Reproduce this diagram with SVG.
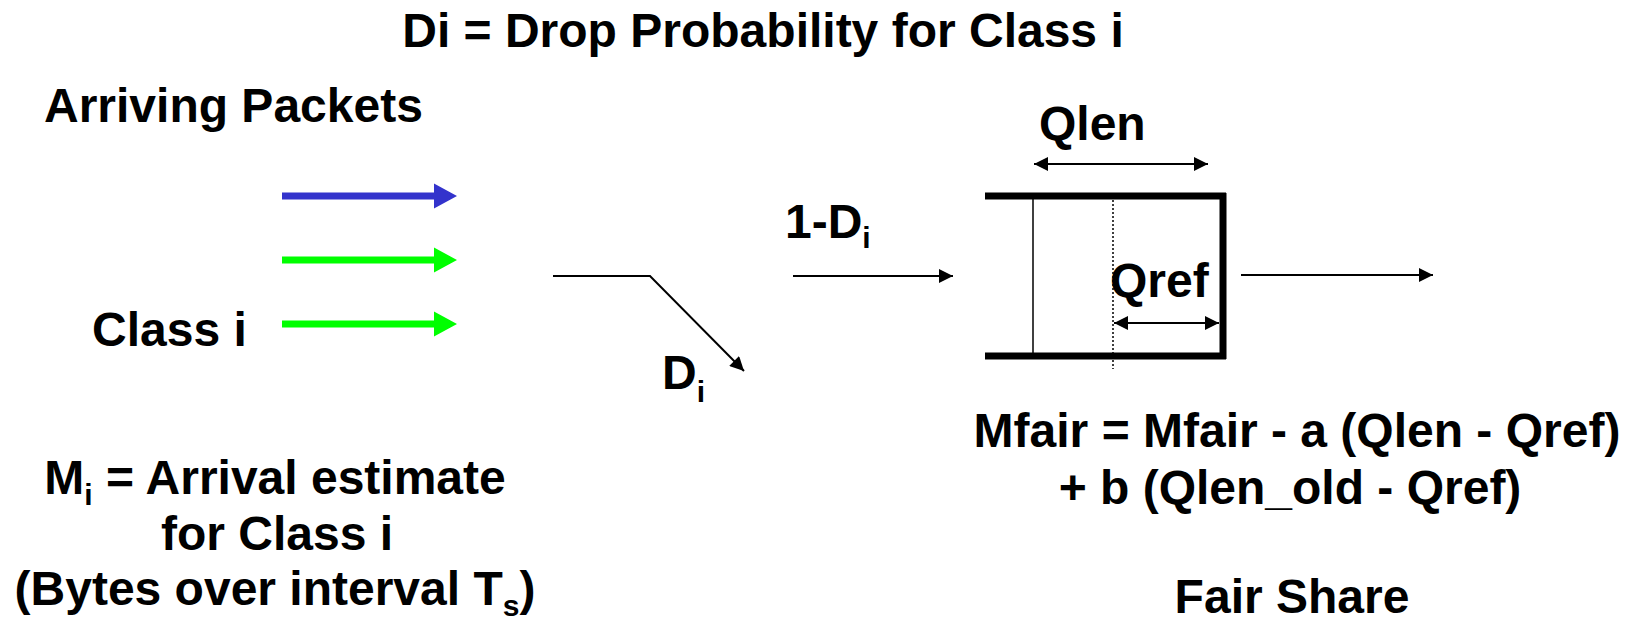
<svg xmlns="http://www.w3.org/2000/svg" width="1637" height="621" viewBox="0 0 1637 621">
<style>
.t{font-family:"Liberation Sans",Arial,sans-serif;font-weight:bold;font-size:48px;fill:#000}
.sub{font-size:30px}
.ln{stroke:#000;stroke-width:2;fill:none}
.thick{stroke:#000;stroke-width:7;fill:none}
</style>
<defs>
<marker id="ah" viewBox="0 0 10 10" refX="10" refY="5" markerWidth="8" markerHeight="7" markerUnits="strokeWidth" orient="auto-start-reverse">
<path d="M0,0 L10,5 L0,10 z" fill="#000"/>
</marker>
</defs>
<rect width="1637" height="621" fill="#fff"/>

<g id="title"><text class="t" x="763" y="47" text-anchor="middle">Di = Drop Probability for Class i</text></g>
<g id="arriving"><text class="t" x="44" y="122">Arriving Packets</text></g>
<g id="classi"><text class="t" x="92" y="346">Class i</text></g>

<g id="packet-arrows">
<path d="M282,192.5 H434 V183.5 L457,196 L434,208.5 V199.5 H282 z" fill="#3333CC"/>
<path d="M282,256.5 H434 V247.5 L457,260 L434,272.5 V263.5 H282 z" fill="#00FF00"/>
<path d="M282,320.5 H434 V311.5 L457,324 L434,336.5 V327.5 H282 z" fill="#00FF00"/>
</g>

<g id="connectors">
<polyline class="ln" points="553,276 650,276 744,371" marker-end="url(#ah)"/>
<line class="ln" x1="793" y1="276" x2="953" y2="276" marker-end="url(#ah)"/>
<line class="ln" x1="1241" y1="275" x2="1433" y2="275" marker-end="url(#ah)"/>
</g>

<g id="labels">
<text class="t" x="785" y="238">1-D<tspan class="sub" dy="10">i</tspan></text>
<text class="t" x="662" y="389">D<tspan class="sub" dy="13">i</tspan></text>
</g>

<g id="queue">
<line class="thick" x1="985" y1="196" x2="1226" y2="196"/>
<line class="thick" x1="985" y1="356" x2="1226" y2="356"/>
<line class="thick" x1="1223" y1="193" x2="1223" y2="359"/>
<line stroke="#000" stroke-width="1.5" x1="1033" y1="196" x2="1033" y2="356"/>
<line stroke="#000" stroke-width="1.5" stroke-dasharray="2,2" x1="1113" y1="196" x2="1113" y2="369"/>
<line class="ln" x1="1034" y1="164" x2="1208" y2="164" marker-start="url(#ah)" marker-end="url(#ah)"/>
<line class="ln" x1="1114" y1="323" x2="1219" y2="323" marker-start="url(#ah)" marker-end="url(#ah)"/>
<text class="t" x="1039" y="140">Qlen</text>
<text class="t" x="1110" y="297">Qref</text>
</g>

<g id="arrival-estimate">
<text class="t" x="275" y="494" text-anchor="middle">M<tspan class="sub" dy="11">i</tspan><tspan dy="-11"> = Arrival estimate</tspan></text>
<text class="t" x="277" y="550" text-anchor="middle">for Class i</text>
<text class="t" x="275" y="605" text-anchor="middle">(Bytes over interval T<tspan class="sub" dy="11">s</tspan><tspan dy="-11">)</tspan></text>
</g>

<g id="fair-share">
<text class="t" x="1297" y="447" text-anchor="middle">Mfair = Mfair - a (Qlen - Qref)</text>
<text class="t" x="1290" y="504" text-anchor="middle">+ b (Qlen_old - Qref)</text>
<text class="t" x="1292" y="613" text-anchor="middle">Fair Share</text>
</g>
</svg>
